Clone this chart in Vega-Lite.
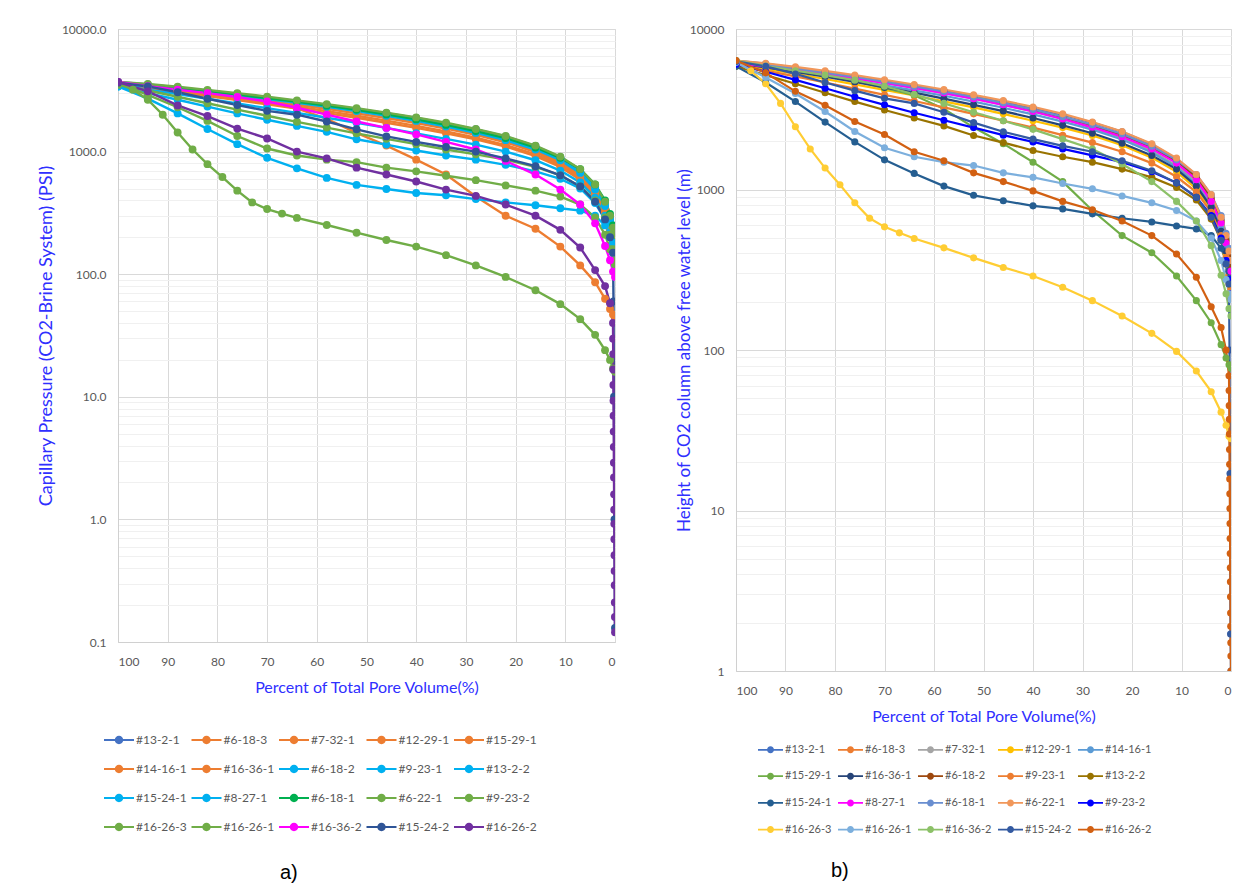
{
"$schema": "https://vega.github.io/schema/vega-lite/v6.json",
"background": "white",
"padding": {"left": 36, "top": 22, "right": 4, "bottom": 2},
"spacing": 58,
"resolve": {"scale": {"color": "independent", "x": "independent", "y": "independent"}, "legend": {"color": "independent"}},
"config": {
  "font": "Lato",
  "view": {"stroke": "#d9d9d9"},
  "axis": {"labelFont": "Lato", "labelColor": "#595959", "labelFontSize": 12, "titleFont": "Lato", "titleColor": "#2F2FFF", "titleFontWeight": "normal", "ticks": false, "tickSize": 0, "domainColor": "#d0d0d0", "gridColor": "#d9d9d9", "labelOverlap": false}
},
"data": {"values": [
{"id":"#13-2-1","pv":100,"pc":3700,"h":6360},{"id":"#13-2-1","pv":94,"pc":3530,"h":6070},{"id":"#13-2-1","pv":88,"pc":3340,"h":5740},{"id":"#13-2-1","pv":82,"pc":3140,"h":5400},{"id":"#13-2-1","pv":76,"pc":2950,"h":5070},{"id":"#13-2-1","pv":70,"pc":2760,"h":4750},{"id":"#13-2-1","pv":64,"pc":2580,"h":4440},{"id":"#13-2-1","pv":58,"pc":2400,"h":4130},{"id":"#13-2-1","pv":52,"pc":2230,"h":3840},{"id":"#13-2-1","pv":46,"pc":2060,"h":3540},{"id":"#13-2-1","pv":40,"pc":1880,"h":3230},{"id":"#13-2-1","pv":34,"pc":1700,"h":2920},{"id":"#13-2-1","pv":28,"pc":1520,"h":2610},{"id":"#13-2-1","pv":22,"pc":1330,"h":2290},{"id":"#13-2-1","pv":16,"pc":1110,"h":1910},{"id":"#13-2-1","pv":11,"pc":900,"h":1550},{"id":"#13-2-1","pv":7,"pc":710,"h":1220},{"id":"#13-2-1","pv":4,"pc":530,"h":912},{"id":"#13-2-1","pv":2,"pc":380,"h":654},{"id":"#13-2-1","pv":1,"pc":290,"h":499},{"id":"#13-2-1","pv":0.4,"pc":230,"h":396},{"id":"#13-2-1","pv":0,"pc":200,"h":344},
{"id":"#6-18-3","pv":100,"pc":3600,"h":6190},{"id":"#6-18-3","pv":94,"pc":3440,"h":5920},{"id":"#6-18-3","pv":88,"pc":3260,"h":5610},{"id":"#6-18-3","pv":82,"pc":3070,"h":5280},{"id":"#6-18-3","pv":76,"pc":2880,"h":4950},{"id":"#6-18-3","pv":70,"pc":2700,"h":4640},{"id":"#6-18-3","pv":64,"pc":2520,"h":4330},{"id":"#6-18-3","pv":58,"pc":2340,"h":4020},{"id":"#6-18-3","pv":52,"pc":2160,"h":3720},{"id":"#6-18-3","pv":46,"pc":1990,"h":3420},{"id":"#6-18-3","pv":40,"pc":1810,"h":3110},{"id":"#6-18-3","pv":34,"pc":1630,"h":2800},{"id":"#6-18-3","pv":28,"pc":1450,"h":2490},{"id":"#6-18-3","pv":22,"pc":1270,"h":2180},{"id":"#6-18-3","pv":16,"pc":1060,"h":1820},{"id":"#6-18-3","pv":11,"pc":860,"h":1480},{"id":"#6-18-3","pv":7,"pc":680,"h":1170},{"id":"#6-18-3","pv":4,"pc":500,"h":860},{"id":"#6-18-3","pv":2,"pc":360,"h":619},{"id":"#6-18-3","pv":1,"pc":270,"h":464},{"id":"#6-18-3","pv":0.4,"pc":215,"h":370},{"id":"#6-18-3","pv":0,"pc":185,"h":318},
{"id":"#7-32-1","pv":100,"pc":3650,"h":6280},{"id":"#7-32-1","pv":94,"pc":3470,"h":5970},{"id":"#7-32-1","pv":88,"pc":3270,"h":5620},{"id":"#7-32-1","pv":82,"pc":3070,"h":5280},{"id":"#7-32-1","pv":76,"pc":2870,"h":4940},{"id":"#7-32-1","pv":70,"pc":2680,"h":4610},{"id":"#7-32-1","pv":64,"pc":2500,"h":4300},{"id":"#7-32-1","pv":58,"pc":2320,"h":3990},{"id":"#7-32-1","pv":52,"pc":2140,"h":3680},{"id":"#7-32-1","pv":46,"pc":1960,"h":3370},{"id":"#7-32-1","pv":40,"pc":1780,"h":3060},{"id":"#7-32-1","pv":34,"pc":1600,"h":2750},{"id":"#7-32-1","pv":28,"pc":1410,"h":2430},{"id":"#7-32-1","pv":22,"pc":1220,"h":2100},{"id":"#7-32-1","pv":16,"pc":1010,"h":1740},{"id":"#7-32-1","pv":11,"pc":820,"h":1410},{"id":"#7-32-1","pv":7,"pc":650,"h":1120},{"id":"#7-32-1","pv":4,"pc":480,"h":826},{"id":"#7-32-1","pv":2,"pc":350,"h":602},{"id":"#7-32-1","pv":1,"pc":260,"h":447},{"id":"#7-32-1","pv":0.4,"pc":200,"h":344},{"id":"#7-32-1","pv":0,"pc":170,"h":292},
{"id":"#12-29-1","pv":100,"pc":3500,"h":6020},{"id":"#12-29-1","pv":94,"pc":3280,"h":5640},{"id":"#12-29-1","pv":88,"pc":3060,"h":5260},{"id":"#12-29-1","pv":82,"pc":2840,"h":4880},{"id":"#12-29-1","pv":76,"pc":2630,"h":4520},{"id":"#12-29-1","pv":70,"pc":2430,"h":4180},{"id":"#12-29-1","pv":64,"pc":2240,"h":3850},{"id":"#12-29-1","pv":58,"pc":2060,"h":3540},{"id":"#12-29-1","pv":52,"pc":1890,"h":3250},{"id":"#12-29-1","pv":46,"pc":1720,"h":2960},{"id":"#12-29-1","pv":40,"pc":1560,"h":2680},{"id":"#12-29-1","pv":34,"pc":1410,"h":2430},{"id":"#12-29-1","pv":28,"pc":1260,"h":2170},{"id":"#12-29-1","pv":22,"pc":1100,"h":1890},{"id":"#12-29-1","pv":16,"pc":920,"h":1580},{"id":"#12-29-1","pv":11,"pc":750,"h":1290},{"id":"#12-29-1","pv":7,"pc":590,"h":1010},{"id":"#12-29-1","pv":4,"pc":430,"h":740},{"id":"#12-29-1","pv":2,"pc":310,"h":533},{"id":"#12-29-1","pv":1,"pc":230,"h":396},{"id":"#12-29-1","pv":0.4,"pc":170,"h":292},{"id":"#12-29-1","pv":0,"pc":140,"h":241},
{"id":"#15-29-1","pv":100,"pc":3600,"h":6190},{"id":"#15-29-1","pv":94,"pc":3400,"h":5850},{"id":"#15-29-1","pv":88,"pc":3200,"h":5500},{"id":"#15-29-1","pv":82,"pc":2980,"h":5130},{"id":"#15-29-1","pv":76,"pc":2760,"h":4750},{"id":"#15-29-1","pv":70,"pc":2500,"h":4300},{"id":"#15-29-1","pv":64,"pc":2250,"h":3870},{"id":"#15-29-1","pv":58,"pc":1850,"h":3180},{"id":"#15-29-1","pv":52,"pc":1420,"h":2440},{"id":"#15-29-1","pv":46,"pc":1120,"h":1930},{"id":"#15-29-1","pv":40,"pc":860,"h":1480},{"id":"#15-29-1","pv":34,"pc":650,"h":1120},{"id":"#15-29-1","pv":28,"pc":430,"h":740},{"id":"#15-29-1","pv":22,"pc":300,"h":516},{"id":"#15-29-1","pv":16,"pc":235,"h":404},{"id":"#15-29-1","pv":11,"pc":168,"h":289},{"id":"#15-29-1","pv":7,"pc":118,"h":203},{"id":"#15-29-1","pv":4,"pc":86,"h":148},{"id":"#15-29-1","pv":2,"pc":63,"h":108},{"id":"#15-29-1","pv":1,"pc":52,"h":89},{"id":"#15-29-1","pv":0.4,"pc":47,"h":81},{"id":"#15-29-1","pv":0,"pc":45,"h":77},
{"id":"#14-16-1","pv":100,"pc":3600,"h":6190},{"id":"#14-16-1","pv":94,"pc":3400,"h":5850},{"id":"#14-16-1","pv":88,"pc":3190,"h":5490},{"id":"#14-16-1","pv":82,"pc":2980,"h":5130},{"id":"#14-16-1","pv":76,"pc":2780,"h":4780},{"id":"#14-16-1","pv":70,"pc":2590,"h":4450},{"id":"#14-16-1","pv":64,"pc":2410,"h":4150},{"id":"#14-16-1","pv":58,"pc":2230,"h":3840},{"id":"#14-16-1","pv":52,"pc":2050,"h":3530},{"id":"#14-16-1","pv":46,"pc":1880,"h":3230},{"id":"#14-16-1","pv":40,"pc":1710,"h":2940},{"id":"#14-16-1","pv":34,"pc":1540,"h":2650},{"id":"#14-16-1","pv":28,"pc":1370,"h":2360},{"id":"#14-16-1","pv":22,"pc":1190,"h":2050},{"id":"#14-16-1","pv":16,"pc":990,"h":1700},{"id":"#14-16-1","pv":11,"pc":800,"h":1380},{"id":"#14-16-1","pv":7,"pc":630,"h":1080},{"id":"#14-16-1","pv":4,"pc":460,"h":791},{"id":"#14-16-1","pv":2,"pc":330,"h":568},{"id":"#14-16-1","pv":1,"pc":250,"h":430},{"id":"#14-16-1","pv":0.4,"pc":190,"h":327},{"id":"#14-16-1","pv":0,"pc":160,"h":275},
{"id":"#16-36-1","pv":100,"pc":3550,"h":6110},{"id":"#16-36-1","pv":94,"pc":3350,"h":5760},{"id":"#16-36-1","pv":88,"pc":3140,"h":5400},{"id":"#16-36-1","pv":82,"pc":2930,"h":5040},{"id":"#16-36-1","pv":76,"pc":2720,"h":4680},{"id":"#16-36-1","pv":70,"pc":2520,"h":4330},{"id":"#16-36-1","pv":64,"pc":2330,"h":4010},{"id":"#16-36-1","pv":58,"pc":2140,"h":3680},{"id":"#16-36-1","pv":52,"pc":1960,"h":3370},{"id":"#16-36-1","pv":46,"pc":1790,"h":3080},{"id":"#16-36-1","pv":40,"pc":1620,"h":2790},{"id":"#16-36-1","pv":34,"pc":1460,"h":2510},{"id":"#16-36-1","pv":28,"pc":1300,"h":2240},{"id":"#16-36-1","pv":22,"pc":1130,"h":1940},{"id":"#16-36-1","pv":16,"pc":950,"h":1630},{"id":"#16-36-1","pv":11,"pc":780,"h":1340},{"id":"#16-36-1","pv":7,"pc":610,"h":1050},{"id":"#16-36-1","pv":4,"pc":450,"h":774},{"id":"#16-36-1","pv":2,"pc":320,"h":550},{"id":"#16-36-1","pv":1,"pc":240,"h":413},{"id":"#16-36-1","pv":0.4,"pc":180,"h":310},{"id":"#16-36-1","pv":0,"pc":150,"h":258},
{"id":"#6-18-2","pv":100,"pc":3600,"h":6190},{"id":"#6-18-2","pv":94,"pc":3450,"h":5930},{"id":"#6-18-2","pv":88,"pc":3280,"h":5640},{"id":"#6-18-2","pv":82,"pc":3100,"h":5330},{"id":"#6-18-2","pv":76,"pc":2900,"h":4990},{"id":"#6-18-2","pv":70,"pc":2720,"h":4680},{"id":"#6-18-2","pv":64,"pc":2540,"h":4370},{"id":"#6-18-2","pv":58,"pc":2360,"h":4060},{"id":"#6-18-2","pv":52,"pc":2180,"h":3750},{"id":"#6-18-2","pv":46,"pc":2000,"h":3440},{"id":"#6-18-2","pv":40,"pc":1820,"h":3130},{"id":"#6-18-2","pv":34,"pc":1640,"h":2820},{"id":"#6-18-2","pv":28,"pc":1460,"h":2510},{"id":"#6-18-2","pv":22,"pc":1270,"h":2180},{"id":"#6-18-2","pv":16,"pc":1060,"h":1820},{"id":"#6-18-2","pv":11,"pc":870,"h":1500},{"id":"#6-18-2","pv":7,"pc":690,"h":1190},{"id":"#6-18-2","pv":4,"pc":510,"h":877},{"id":"#6-18-2","pv":2,"pc":370,"h":636},{"id":"#6-18-2","pv":1,"pc":280,"h":482},{"id":"#6-18-2","pv":0.4,"pc":220,"h":378},{"id":"#6-18-2","pv":0,"pc":190,"h":327},
{"id":"#9-23-1","pv":100,"pc":3450,"h":5930},{"id":"#9-23-1","pv":94,"pc":3200,"h":5500},{"id":"#9-23-1","pv":88,"pc":2950,"h":5070},{"id":"#9-23-1","pv":82,"pc":2700,"h":4640},{"id":"#9-23-1","pv":76,"pc":2470,"h":4250},{"id":"#9-23-1","pv":70,"pc":2260,"h":3890},{"id":"#9-23-1","pv":64,"pc":2070,"h":3560},{"id":"#9-23-1","pv":58,"pc":1890,"h":3250},{"id":"#9-23-1","pv":52,"pc":1720,"h":2960},{"id":"#9-23-1","pv":46,"pc":1560,"h":2680},{"id":"#9-23-1","pv":40,"pc":1410,"h":2430},{"id":"#9-23-1","pv":34,"pc":1270,"h":2180},{"id":"#9-23-1","pv":28,"pc":1140,"h":1960},{"id":"#9-23-1","pv":22,"pc":1000,"h":1720},{"id":"#9-23-1","pv":16,"pc":850,"h":1460},{"id":"#9-23-1","pv":11,"pc":700,"h":1200},{"id":"#9-23-1","pv":7,"pc":560,"h":963},{"id":"#9-23-1","pv":4,"pc":420,"h":722},{"id":"#9-23-1","pv":2,"pc":300,"h":516},{"id":"#9-23-1","pv":1,"pc":220,"h":378},{"id":"#9-23-1","pv":0.4,"pc":170,"h":292},{"id":"#9-23-1","pv":0,"pc":140,"h":241},
{"id":"#13-2-2","pv":100,"pc":3400,"h":5850},{"id":"#13-2-2","pv":94,"pc":3000,"h":5160},{"id":"#13-2-2","pv":88,"pc":2650,"h":4560},{"id":"#13-2-2","pv":82,"pc":2330,"h":4010},{"id":"#13-2-2","pv":76,"pc":2050,"h":3530},{"id":"#13-2-2","pv":70,"pc":1820,"h":3130},{"id":"#13-2-2","pv":64,"pc":1620,"h":2790},{"id":"#13-2-2","pv":58,"pc":1450,"h":2490},{"id":"#13-2-2","pv":52,"pc":1260,"h":2170},{"id":"#13-2-2","pv":46,"pc":1140,"h":1960},{"id":"#13-2-2","pv":40,"pc":1020,"h":1750},{"id":"#13-2-2","pv":34,"pc":930,"h":1600},{"id":"#13-2-2","pv":28,"pc":860,"h":1480},{"id":"#13-2-2","pv":22,"pc":780,"h":1340},{"id":"#13-2-2","pv":16,"pc":690,"h":1190},{"id":"#13-2-2","pv":11,"pc":600,"h":1030},{"id":"#13-2-2","pv":7,"pc":500,"h":860},{"id":"#13-2-2","pv":4,"pc":380,"h":654},{"id":"#13-2-2","pv":2,"pc":280,"h":482},{"id":"#13-2-2","pv":1,"pc":200,"h":344},{"id":"#13-2-2","pv":0.4,"pc":150,"h":258},{"id":"#13-2-2","pv":0,"pc":120,"h":206},
{"id":"#15-24-1","pv":100,"pc":3400,"h":5850},{"id":"#15-24-1","pv":94,"pc":2700,"h":4640},{"id":"#15-24-1","pv":88,"pc":2050,"h":3530},{"id":"#15-24-1","pv":82,"pc":1530,"h":2630},{"id":"#15-24-1","pv":76,"pc":1150,"h":1980},{"id":"#15-24-1","pv":70,"pc":890,"h":1530},{"id":"#15-24-1","pv":64,"pc":730,"h":1260},{"id":"#15-24-1","pv":58,"pc":610,"h":1050},{"id":"#15-24-1","pv":52,"pc":535,"h":920},{"id":"#15-24-1","pv":46,"pc":495,"h":851},{"id":"#15-24-1","pv":40,"pc":460,"h":791},{"id":"#15-24-1","pv":34,"pc":440,"h":757},{"id":"#15-24-1","pv":28,"pc":410,"h":705},{"id":"#15-24-1","pv":22,"pc":385,"h":662},{"id":"#15-24-1","pv":16,"pc":365,"h":628},{"id":"#15-24-1","pv":11,"pc":345,"h":593},{"id":"#15-24-1","pv":7,"pc":330,"h":568},{"id":"#15-24-1","pv":4,"pc":300,"h":516},{"id":"#15-24-1","pv":2,"pc":250,"h":430},{"id":"#15-24-1","pv":1,"pc":210,"h":361},{"id":"#15-24-1","pv":0.4,"pc":180,"h":310},{"id":"#15-24-1","pv":0,"pc":170,"h":292},
{"id":"#8-27-1","pv":100,"pc":3550,"h":6110},{"id":"#8-27-1","pv":94,"pc":3400,"h":5850},{"id":"#8-27-1","pv":88,"pc":3230,"h":5560},{"id":"#8-27-1","pv":82,"pc":3050,"h":5250},{"id":"#8-27-1","pv":76,"pc":2860,"h":4920},{"id":"#8-27-1","pv":70,"pc":2680,"h":4610},{"id":"#8-27-1","pv":64,"pc":2500,"h":4300},{"id":"#8-27-1","pv":58,"pc":2320,"h":3990},{"id":"#8-27-1","pv":52,"pc":2140,"h":3680},{"id":"#8-27-1","pv":46,"pc":1960,"h":3370},{"id":"#8-27-1","pv":40,"pc":1780,"h":3060},{"id":"#8-27-1","pv":34,"pc":1600,"h":2750},{"id":"#8-27-1","pv":28,"pc":1420,"h":2440},{"id":"#8-27-1","pv":22,"pc":1240,"h":2130},{"id":"#8-27-1","pv":16,"pc":1040,"h":1790},{"id":"#8-27-1","pv":11,"pc":850,"h":1460},{"id":"#8-27-1","pv":7,"pc":670,"h":1150},{"id":"#8-27-1","pv":4,"pc":490,"h":843},{"id":"#8-27-1","pv":2,"pc":360,"h":619},{"id":"#8-27-1","pv":1,"pc":270,"h":464},{"id":"#8-27-1","pv":0.4,"pc":210,"h":361},{"id":"#8-27-1","pv":0,"pc":180,"h":310},
{"id":"#6-18-1","pv":100,"pc":3650,"h":6280},{"id":"#6-18-1","pv":94,"pc":3480,"h":5990},{"id":"#6-18-1","pv":88,"pc":3300,"h":5680},{"id":"#6-18-1","pv":82,"pc":3110,"h":5350},{"id":"#6-18-1","pv":76,"pc":2920,"h":5020},{"id":"#6-18-1","pv":70,"pc":2730,"h":4700},{"id":"#6-18-1","pv":64,"pc":2550,"h":4390},{"id":"#6-18-1","pv":58,"pc":2370,"h":4080},{"id":"#6-18-1","pv":52,"pc":2190,"h":3770},{"id":"#6-18-1","pv":46,"pc":2010,"h":3460},{"id":"#6-18-1","pv":40,"pc":1830,"h":3150},{"id":"#6-18-1","pv":34,"pc":1650,"h":2840},{"id":"#6-18-1","pv":28,"pc":1470,"h":2530},{"id":"#6-18-1","pv":22,"pc":1290,"h":2220},{"id":"#6-18-1","pv":16,"pc":1080,"h":1860},{"id":"#6-18-1","pv":11,"pc":890,"h":1530},{"id":"#6-18-1","pv":7,"pc":720,"h":1240},{"id":"#6-18-1","pv":4,"pc":540,"h":929},{"id":"#6-18-1","pv":2,"pc":400,"h":688},{"id":"#6-18-1","pv":1,"pc":310,"h":533},{"id":"#6-18-1","pv":0.4,"pc":250,"h":430},{"id":"#6-18-1","pv":0,"pc":210,"h":361},
{"id":"#6-22-1","pv":100,"pc":3700,"h":6360},{"id":"#6-22-1","pv":94,"pc":3560,"h":6120},{"id":"#6-22-1","pv":88,"pc":3380,"h":5810},{"id":"#6-22-1","pv":82,"pc":3190,"h":5490},{"id":"#6-22-1","pv":76,"pc":3000,"h":5160},{"id":"#6-22-1","pv":70,"pc":2810,"h":4830},{"id":"#6-22-1","pv":64,"pc":2620,"h":4510},{"id":"#6-22-1","pv":58,"pc":2440,"h":4200},{"id":"#6-22-1","pv":52,"pc":2260,"h":3890},{"id":"#6-22-1","pv":46,"pc":2080,"h":3580},{"id":"#6-22-1","pv":40,"pc":1900,"h":3270},{"id":"#6-22-1","pv":34,"pc":1720,"h":2960},{"id":"#6-22-1","pv":28,"pc":1530,"h":2630},{"id":"#6-22-1","pv":22,"pc":1340,"h":2300},{"id":"#6-22-1","pv":16,"pc":1120,"h":1930},{"id":"#6-22-1","pv":11,"pc":910,"h":1570},{"id":"#6-22-1","pv":7,"pc":720,"h":1240},{"id":"#6-22-1","pv":4,"pc":540,"h":929},{"id":"#6-22-1","pv":2,"pc":390,"h":671},{"id":"#6-22-1","pv":1,"pc":300,"h":516},{"id":"#6-22-1","pv":0.4,"pc":240,"h":413},{"id":"#6-22-1","pv":0,"pc":210,"h":361},
{"id":"#9-23-2","pv":100,"pc":3500,"h":6020},{"id":"#9-23-2","pv":94,"pc":3150,"h":5420},{"id":"#9-23-2","pv":88,"pc":2800,"h":4820},{"id":"#9-23-2","pv":82,"pc":2480,"h":4270},{"id":"#9-23-2","pv":76,"pc":2200,"h":3780},{"id":"#9-23-2","pv":70,"pc":1960,"h":3370},{"id":"#9-23-2","pv":64,"pc":1750,"h":3010},{"id":"#9-23-2","pv":58,"pc":1570,"h":2700},{"id":"#9-23-2","pv":52,"pc":1410,"h":2430},{"id":"#9-23-2","pv":46,"pc":1270,"h":2180},{"id":"#9-23-2","pv":40,"pc":1150,"h":1980},{"id":"#9-23-2","pv":34,"pc":1040,"h":1790},{"id":"#9-23-2","pv":28,"pc":950,"h":1630},{"id":"#9-23-2","pv":22,"pc":860,"h":1480},{"id":"#9-23-2","pv":16,"pc":750,"h":1290},{"id":"#9-23-2","pv":11,"pc":640,"h":1100},{"id":"#9-23-2","pv":7,"pc":520,"h":894},{"id":"#9-23-2","pv":4,"pc":400,"h":688},{"id":"#9-23-2","pv":2,"pc":290,"h":499},{"id":"#9-23-2","pv":1,"pc":210,"h":361},{"id":"#9-23-2","pv":0.4,"pc":160,"h":275},{"id":"#9-23-2","pv":0,"pc":130,"h":224},
{"id":"#16-26-3","pv":100,"pc":3650,"h":6280},{"id":"#16-26-3","pv":97,"pc":3200,"h":5500},{"id":"#16-26-3","pv":94,"pc":2650,"h":4560},{"id":"#16-26-3","pv":91,"pc":2000,"h":3440},{"id":"#16-26-3","pv":88,"pc":1430,"h":2460},{"id":"#16-26-3","pv":85,"pc":1040,"h":1790},{"id":"#16-26-3","pv":82,"pc":790,"h":1360},{"id":"#16-26-3","pv":79,"pc":620,"h":1070},{"id":"#16-26-3","pv":76,"pc":480,"h":826},{"id":"#16-26-3","pv":73,"pc":385,"h":662},{"id":"#16-26-3","pv":70,"pc":340,"h":585},{"id":"#16-26-3","pv":67,"pc":312,"h":537},{"id":"#16-26-3","pv":64,"pc":288,"h":495},{"id":"#16-26-3","pv":58,"pc":252,"h":433},{"id":"#16-26-3","pv":52,"pc":218,"h":375},{"id":"#16-26-3","pv":46,"pc":190,"h":327},{"id":"#16-26-3","pv":40,"pc":168,"h":289},{"id":"#16-26-3","pv":34,"pc":143,"h":246},{"id":"#16-26-3","pv":28,"pc":118,"h":203},{"id":"#16-26-3","pv":22,"pc":95,"h":163},{"id":"#16-26-3","pv":16,"pc":74,"h":127},{"id":"#16-26-3","pv":11,"pc":57,"h":98},{"id":"#16-26-3","pv":7,"pc":43,"h":74},{"id":"#16-26-3","pv":4,"pc":32,"h":55},{"id":"#16-26-3","pv":2,"pc":24,"h":41},{"id":"#16-26-3","pv":1,"pc":20,"h":34},{"id":"#16-26-3","pv":0.4,"pc":17,"h":29},{"id":"#16-26-3","pv":0,"pc":16,"h":28},
{"id":"#16-26-1","pv":100,"pc":3600,"h":6190},{"id":"#16-26-1","pv":94,"pc":2900,"h":4990},{"id":"#16-26-1","pv":88,"pc":2300,"h":3960},{"id":"#16-26-1","pv":82,"pc":1780,"h":3060},{"id":"#16-26-1","pv":76,"pc":1340,"h":2300},{"id":"#16-26-1","pv":70,"pc":1060,"h":1820},{"id":"#16-26-1","pv":64,"pc":930,"h":1600},{"id":"#16-26-1","pv":58,"pc":860,"h":1480},{"id":"#16-26-1","pv":52,"pc":820,"h":1410},{"id":"#16-26-1","pv":46,"pc":740,"h":1270},{"id":"#16-26-1","pv":40,"pc":690,"h":1190},{"id":"#16-26-1","pv":34,"pc":635,"h":1090},{"id":"#16-26-1","pv":28,"pc":585,"h":1010},{"id":"#16-26-1","pv":22,"pc":530,"h":912},{"id":"#16-26-1","pv":16,"pc":480,"h":826},{"id":"#16-26-1","pv":11,"pc":430,"h":740},{"id":"#16-26-1","pv":7,"pc":370,"h":636},{"id":"#16-26-1","pv":4,"pc":290,"h":499},{"id":"#16-26-1","pv":2,"pc":210,"h":361},{"id":"#16-26-1","pv":1,"pc":160,"h":275},{"id":"#16-26-1","pv":0.4,"pc":130,"h":224},{"id":"#16-26-1","pv":0,"pc":120,"h":206},
{"id":"#16-36-2","pv":100,"pc":3700,"h":6360},{"id":"#16-36-2","pv":94,"pc":3420,"h":5880},{"id":"#16-36-2","pv":88,"pc":3200,"h":5500},{"id":"#16-36-2","pv":82,"pc":3000,"h":5160},{"id":"#16-36-2","pv":76,"pc":2790,"h":4800},{"id":"#16-36-2","pv":70,"pc":2560,"h":4400},{"id":"#16-36-2","pv":64,"pc":2280,"h":3920},{"id":"#16-36-2","pv":58,"pc":2000,"h":3440},{"id":"#16-36-2","pv":52,"pc":1760,"h":3030},{"id":"#16-36-2","pv":46,"pc":1560,"h":2680},{"id":"#16-36-2","pv":40,"pc":1380,"h":2370},{"id":"#16-36-2","pv":34,"pc":1200,"h":2060},{"id":"#16-36-2","pv":28,"pc":1040,"h":1790},{"id":"#16-36-2","pv":22,"pc":840,"h":1440},{"id":"#16-36-2","pv":16,"pc":650,"h":1120},{"id":"#16-36-2","pv":11,"pc":490,"h":843},{"id":"#16-36-2","pv":7,"pc":370,"h":636},{"id":"#16-36-2","pv":4,"pc":260,"h":447},{"id":"#16-36-2","pv":2,"pc":170,"h":292},{"id":"#16-36-2","pv":1,"pc":130,"h":224},{"id":"#16-36-2","pv":0.4,"pc":105,"h":181},{"id":"#16-36-2","pv":0,"pc":95,"h":163},
{"id":"#15-24-2","pv":100,"pc":3650,"h":6280},{"id":"#15-24-2","pv":94,"pc":3400,"h":5850},{"id":"#15-24-2","pv":88,"pc":3050,"h":5250},{"id":"#15-24-2","pv":82,"pc":2700,"h":4640},{"id":"#15-24-2","pv":76,"pc":2400,"h":4130},{"id":"#15-24-2","pv":70,"pc":2150,"h":3700},{"id":"#15-24-2","pv":64,"pc":2000,"h":3440},{"id":"#15-24-2","pv":58,"pc":1760,"h":3030},{"id":"#15-24-2","pv":52,"pc":1520,"h":2610},{"id":"#15-24-2","pv":46,"pc":1330,"h":2290},{"id":"#15-24-2","pv":40,"pc":1200,"h":2060},{"id":"#15-24-2","pv":34,"pc":1090,"h":1870},{"id":"#15-24-2","pv":28,"pc":1000,"h":1720},{"id":"#15-24-2","pv":22,"pc":880,"h":1510},{"id":"#15-24-2","pv":16,"pc":760,"h":1310},{"id":"#15-24-2","pv":11,"pc":640,"h":1100},{"id":"#15-24-2","pv":7,"pc":520,"h":894},{"id":"#15-24-2","pv":4,"pc":390,"h":671},{"id":"#15-24-2","pv":2,"pc":280,"h":482},{"id":"#15-24-2","pv":1,"pc":200,"h":344},{"id":"#15-24-2","pv":0.4,"pc":150,"h":258},{"id":"#15-24-2","pv":0.3,"pc":60,"h":100},{"id":"#15-24-2","pv":0.2,"pc":10,"h":17},{"id":"#15-24-2","pv":0.1,"pc":1,"h":1.7},{"id":"#15-24-2","pv":0,"pc":0.13,"h":1},
{"id":"#16-26-2","pv":100,"pc":3700,"h":6360},{"id":"#16-26-2","pv":94,"pc":3100,"h":5330},{"id":"#16-26-2","pv":88,"pc":2380,"h":4090},{"id":"#16-26-2","pv":82,"pc":1950,"h":3350},{"id":"#16-26-2","pv":76,"pc":1540,"h":2650},{"id":"#16-26-2","pv":70,"pc":1280,"h":2200},{"id":"#16-26-2","pv":64,"pc":1000,"h":1720},{"id":"#16-26-2","pv":58,"pc":880,"h":1510},{"id":"#16-26-2","pv":52,"pc":740,"h":1270},{"id":"#16-26-2","pv":46,"pc":650,"h":1120},{"id":"#16-26-2","pv":40,"pc":570,"h":980},{"id":"#16-26-2","pv":34,"pc":490,"h":843},{"id":"#16-26-2","pv":28,"pc":435,"h":748},{"id":"#16-26-2","pv":22,"pc":370,"h":636},{"id":"#16-26-2","pv":16,"pc":300,"h":516},{"id":"#16-26-2","pv":11,"pc":230,"h":396},{"id":"#16-26-2","pv":7,"pc":165,"h":284},{"id":"#16-26-2","pv":4,"pc":108,"h":186},{"id":"#16-26-2","pv":2,"pc":80,"h":138},{"id":"#16-26-2","pv":1,"pc":58,"h":100},{"id":"#16-26-2","pv":0.4,"pc":40,"h":69},
{"id":"#16-26-2","pv":0.38,"pc":29.8,"h":56},{"id":"#16-26-2","pv":0.36,"pc":22.3,"h":45},{"id":"#16-26-2","pv":0.34,"pc":16.7,"h":37},{"id":"#16-26-2","pv":0.32,"pc":12.5,"h":30},{"id":"#16-26-2","pv":0.3,"pc":9.3,"h":24},{"id":"#16-26-2","pv":0.28,"pc":7,"h":19.4},{"id":"#16-26-2","pv":0.26,"pc":5.2,"h":15.7},{"id":"#16-26-2","pv":0.24,"pc":3.9,"h":12.7},{"id":"#16-26-2","pv":0.22,"pc":2.9,"h":10.3},{"id":"#16-26-2","pv":0.2,"pc":2.2,"h":8.3},{"id":"#16-26-2","pv":0.18,"pc":1.6,"h":6.7},{"id":"#16-26-2","pv":0.16,"pc":1.2,"h":5.4},{"id":"#16-26-2","pv":0.14,"pc":0.92,"h":4.4},{"id":"#16-26-2","pv":0.12,"pc":0.69,"h":3.6},{"id":"#16-26-2","pv":0.1,"pc":0.51,"h":2.9},{"id":"#16-26-2","pv":0.08,"pc":0.38,"h":2.3},{"id":"#16-26-2","pv":0.06,"pc":0.29,"h":1.9},{"id":"#16-26-2","pv":0.04,"pc":0.21,"h":1.5},{"id":"#16-26-2","pv":0.02,"pc":0.16,"h":1.24},{"id":"#16-26-2","pv":0,"pc":0.12,"h":1}
]},
"hconcat": [
{
  "width": 497, "height": 613,
  "title": {"text": "a)", "orient": "bottom", "anchor": "start", "frame": "group", "dx": 162, "offset": 30, "fontSize": 20, "font": "Liberation Sans", "fontWeight": "normal", "color": "#000000"},
  "encoding": {
    "x": {"field": "pv", "type": "quantitative", "scale": {"domain": [0, 100], "reverse": true, "nice": false, "zero": false},
      "axis": {"title": "Percent of Total Pore Volume(%)", "titleFontSize": 16, "titlePadding": 12, "labelPadding": 14, "values": [0,10,20,30,40,50,60,70,80,90,100], "format": "d"}},
    "y": {"field": "pc", "type": "quantitative", "scale": {"type": "log", "domain": [0.1, 10000], "nice": false},
      "axis": {"title": "Capillary Pressure (CO2-Brine System) (PSI)", "titleFontSize": 18, "titlePadding": 6, "labelPadding": 12,
        "values": [0.1,0.2,0.3,0.4,0.5,0.6,0.7,0.8,0.9,1,2,3,4,5,6,7,8,9,10,20,30,40,50,60,70,80,90,100,200,300,400,500,600,700,800,900,1000,2000,3000,4000,5000,6000,7000,8000,9000,10000],
        "labelExpr": "indexof([0.1,1,10,100,1000,10000], datum.value) >= 0 ? format(datum.value, '.1f') : ''",
        "gridColor": {"condition": {"test": "indexof([0.1,1,10,100,1000,10000], datum.value) >= 0", "value": "#d9d9d9"}, "value": "#f0f0f0"}}},
    "color": {"field": "id", "type": "nominal",
       "scale": {"domain": ["#13-2-1","#6-18-3","#7-32-1","#12-29-1","#15-29-1","#14-16-1","#16-36-1","#6-18-2","#9-23-1","#13-2-2","#15-24-1","#8-27-1","#6-18-1","#6-22-1","#9-23-2","#16-26-3","#16-26-1","#16-36-2","#15-24-2","#16-26-2"],
                 "range": ["#4472C4","#ED7D31","#ED7D31","#ED7D31","#ED7D31","#ED7D31","#ED7D31","#00B0F0","#00B0F0","#00B0F0","#00B0F0","#00B0F0","#00B050","#70AD47","#70AD47","#70AD47","#70AD47","#FF00FF","#2F5597","#7030A0"]},
       "legend": {"orient": "none", "legendX": -14, "legendY": 696, "direction": "horizontal", "columns": 5, "title": null,
         "symbolType": "M-1,-0.07L-0.26,-0.07L-0.26,0.07L-1,0.07Z M0.26,-0.07L1,-0.07L1,0.07L0.26,0.07Z M0.28,0A0.28,0.28,0,1,1,-0.28,0A0.28,0.28,0,1,1,0.28,0Z",
         "symbolSize": 900, "symbolStrokeWidth": 0, "labelFont": "Lato", "labelFontSize": 12, "labelColor": "#595959", "labelOffset": 2,
         "gridAlign": "all", "columnPadding": 4.5, "rowPadding": 8, "labelLimit": 120}}
  },
  "layer": [
    {"mark": {"type": "line", "strokeWidth": 2.4, "clip": true}},
    {"mark": {"type": "point", "filled": true, "size": 62, "opacity": 1, "clip": true}}
  ]
},
{
  "width": 495, "height": 642,
  "title": {"text": "b)", "orient": "bottom", "anchor": "start", "frame": "group", "dx": 95, "offset": 26, "fontSize": 20, "font": "Liberation Sans", "fontWeight": "normal", "color": "#000000"},
  "encoding": {
    "x": {"field": "pv", "type": "quantitative", "scale": {"domain": [0, 100], "reverse": true, "nice": false, "zero": false},
      "axis": {"title": "Percent of Total Pore Volume(%)", "titleFontSize": 16, "titlePadding": 12, "labelPadding": 14, "values": [0,10,20,30,40,50,60,70,80,90,100], "format": "d"}},
    "y": {"field": "h", "type": "quantitative", "scale": {"type": "log", "domain": [1, 10000], "nice": false},
      "axis": {"title": "Height of CO2 column above free water level (m)", "titleFontSize": 17, "titlePadding": -4, "labelPadding": 12,
        "values": [1,2,3,4,5,6,7,8,9,10,20,30,40,50,60,70,80,90,100,200,300,400,500,600,700,800,900,1000,2000,3000,4000,5000,6000,7000,8000,9000,10000],
        "labelExpr": "indexof([1,10,100,1000,10000], datum.value) >= 0 ? format(datum.value, 'd') : ''",
        "gridColor": {"condition": {"test": "indexof([1,10,100,1000,10000], datum.value) >= 0", "value": "#d9d9d9"}, "value": "#f0f0f0"}}},
    "color": {"field": "id", "type": "nominal",
       "scale": {"domain": ["#13-2-1","#6-18-3","#7-32-1","#12-29-1","#14-16-1","#15-29-1","#16-36-1","#6-18-2","#9-23-1","#13-2-2","#15-24-1","#8-27-1","#6-18-1","#6-22-1","#9-23-2","#16-26-3","#16-26-1","#16-36-2","#15-24-2","#16-26-2"],
                 "range": ["#4472C4","#ED7D31","#A5A5A5","#FFC000","#5B9BD5","#70AD47","#264478","#9E480E","#ED7D31","#997300","#255E91","#FF00FF","#698ED0","#F1975A","#0000FF","#FFCD33","#7CAFDD","#8CC168","#335AA1","#D26012"]},
       "legend": {"orient": "none", "legendX": 22, "legendY": 708, "direction": "horizontal", "columns": 5, "title": null,
         "symbolType": "M-1,-0.07L-0.26,-0.07L-0.26,0.07L-1,0.07Z M0.26,-0.07L1,-0.07L1,0.07L0.26,0.07Z M0.28,0A0.28,0.28,0,1,1,-0.28,0A0.28,0.28,0,1,1,0.28,0Z",
         "symbolSize": 625, "symbolStrokeWidth": 0, "labelFont": "Lato", "labelFontSize": 11, "labelColor": "#595959", "labelOffset": 2,
         "gridAlign": "all", "columnPadding": 6, "rowPadding": 8.7, "labelLimit": 120}}
  },
  "layer": [
    {"mark": {"type": "line", "strokeWidth": 2.2, "clip": true}},
    {"mark": {"type": "point", "filled": true, "size": 50, "opacity": 1, "clip": true}}
  ]
}
]
}
